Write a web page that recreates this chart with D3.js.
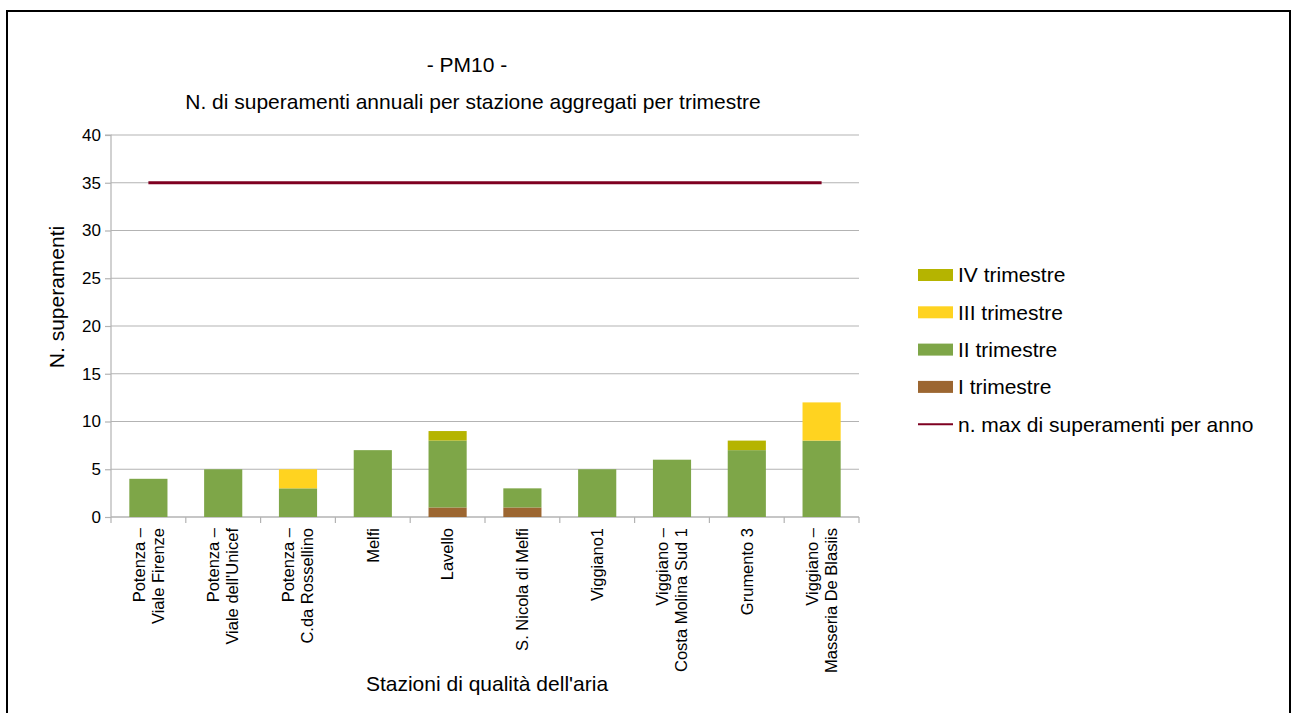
<!DOCTYPE html>
<html><head><meta charset="utf-8">
<script src="https://cdn.jsdelivr.net/npm/d3@7"></script>
<style>body{margin:0;background:#fff;} svg{display:block;font-family:"Liberation Sans",Arial,sans-serif;}</style>
</head><body>
<svg id="c" width="1292" height="713"></svg>
<script>
const stations = [
  ["Potenza –","Viale Firenze"],
  ["Potenza –","Viale dell'Unicef"],
  ["Potenza –","C.da Rossellino"],
  ["Melfi"],
  ["Lavello"],
  ["S. Nicola di Melfi"],
  ["Viggiano1"],
  ["Viggiano –","Costa Molina Sud 1"],
  ["Grumento 3"],
  ["Viggiano –","Masseria De Blasiis"]
];
const trim1 = [0,0,0,0,1,1,0,0,0,0];
const trim2 = [4,5,3,7,7,2,5,6,7,8];
const trim3 = [0,0,2,0,0,0,0,0,0,4];
const trim4 = [0,0,0,0,1,0,0,0,1,0];
const maxLimit = [35,35,35,35,35,35,35,35,35,35];
const yTicks = [0,5,10,15,20,25,30,35,40];
const seriesNames = ["I trimestre","II trimestre","III trimestre","IV trimestre"];
const seriesColors = ["#9c6631","#7ea648","#ffd320","#b5b400"];
const lineName = "n. max di superamenti per anno";
const lineColor = "#7e0021";

const svg = d3.select("#c");
const L = 111, R = 859, T = 135, B = 517;
const idx = stations.map((d,i)=>i);
const x = d3.scaleBand().domain(idx).range([L,R]).paddingInner(0.49).paddingOuter(0.245);
const xb = d3.scaleBand().domain(idx).range([L,R]);
const y = d3.scaleLinear().domain([0,40]).range([B,T]);

// frame
svg.append("rect").attr("x",7).attr("y",11).attr("width",1283).attr("height",720)
  .attr("fill","none").attr("stroke","#000").attr("stroke-width",2);

// gridlines
svg.append("g").selectAll("line").data(yTicks).join("line")
  .attr("x1",L).attr("x2",R).attr("y1",d=>y(d)).attr("y2",d=>y(d))
  .attr("stroke","#b3b3b3").attr("stroke-width",1.2);

// y axis
const ya = svg.append("g").attr("transform",`translate(${L},0)`)
  .call(d3.axisLeft(y).tickValues(yTicks).tickSize(6).tickPadding(4));
ya.select(".domain").attr("stroke","#b3b3b3").attr("stroke-width",1.2).attr("d",`M-6,${T}H0V${B}`);
ya.selectAll(".tick line").attr("stroke","#b3b3b3").attr("stroke-width",1.2);
ya.selectAll(".tick text").attr("font-size",17).attr("fill","#000").attr("font-family","Liberation Sans, Arial");

// x axis line and ticks
const xa = svg.append("g");
xa.append("line").attr("x1",L).attr("x2",R).attr("y1",B).attr("y2",B).attr("stroke","#b3b3b3").attr("stroke-width",1.2);
xa.selectAll("line.t").data(d3.range(stations.length+1)).join("line").attr("class","t")
  .attr("x1",d=>L+d*xb.step()).attr("x2",d=>L+d*xb.step()).attr("y1",B).attr("y2",B+6)
  .attr("stroke","#b3b3b3").attr("stroke-width",1.2);

// stacked bars
const rows = idx.map(i=>({i, s0:trim1[i], s1:trim2[i], s2:trim3[i], s3:trim4[i]}));
const stack = d3.stack().keys(["s0","s1","s2","s3"])(rows);
svg.append("g").selectAll("g").data(stack).join("g").attr("fill",(d,k)=>seriesColors[k])
  .selectAll("rect").data(d=>d).join("rect")
  .attr("x",d=>x(d.data.i)).attr("width",x.bandwidth())
  .attr("y",d=>y(d[1])).attr("height",d=>y(d[0])-y(d[1]));

// limit line
svg.append("path").datum(idx)
  .attr("d",d3.line().x(i=>xb(i)+xb.bandwidth()/2).y(i=>y(maxLimit[i])))
  .attr("fill","none").attr("stroke",lineColor).attr("stroke-width",3);

// x labels
const xl = svg.append("g");
stations.forEach((lines,i)=>{
  const cx = xb(i)+xb.bandwidth()/2;
  const t = xl.append("text").attr("transform",`translate(${cx},${B+11}) rotate(-90)`)
    .attr("text-anchor","end").attr("font-size",16.5).attr("fill","#000");
  const n = lines.length;
  lines.forEach((s,j)=>{
    const off = (j-(n-1)/2)*19;
    t.append("tspan").attr("x",0).attr("y",off).attr("dy","0.35em").text(s);
  });
});

// titles
svg.append("text").attr("x",467).attr("y",72).attr("text-anchor","middle").attr("font-size",21).text("- PM10 -");
svg.append("text").attr("x",473).attr("y",109).attr("text-anchor","middle").attr("font-size",21).text("N. di superamenti annuali per stazione aggregati per trimestre");
svg.append("text").attr("transform","translate(64,297) rotate(-90)").attr("text-anchor","middle").attr("font-size",21).text("N. superamenti");
svg.append("text").attr("x",487).attr("y",691).attr("text-anchor","middle").attr("font-size",21).text("Stazioni di qualità dell'aria");

// legend
const leg = svg.append("g");
const legItems = [3,2,1,0];
legItems.forEach((k,j)=>{
  const cy = 275 + j*37.3;
  leg.append("rect").attr("x",918).attr("y",cy-6).attr("width",35).attr("height",12).attr("fill",seriesColors[k]);
  leg.append("text").attr("x",958).attr("y",cy).attr("dy","0.35em").attr("font-size",21).text(seriesNames[k]);
});
const ly = 275 + 4*37.3;
leg.append("line").attr("x1",918).attr("x2",953).attr("y1",ly).attr("y2",ly).attr("stroke",lineColor).attr("stroke-width",2);
leg.append("text").attr("x",958).attr("y",ly).attr("dy","0.35em").attr("font-size",21).text(lineName);
</script>
</body></html>
